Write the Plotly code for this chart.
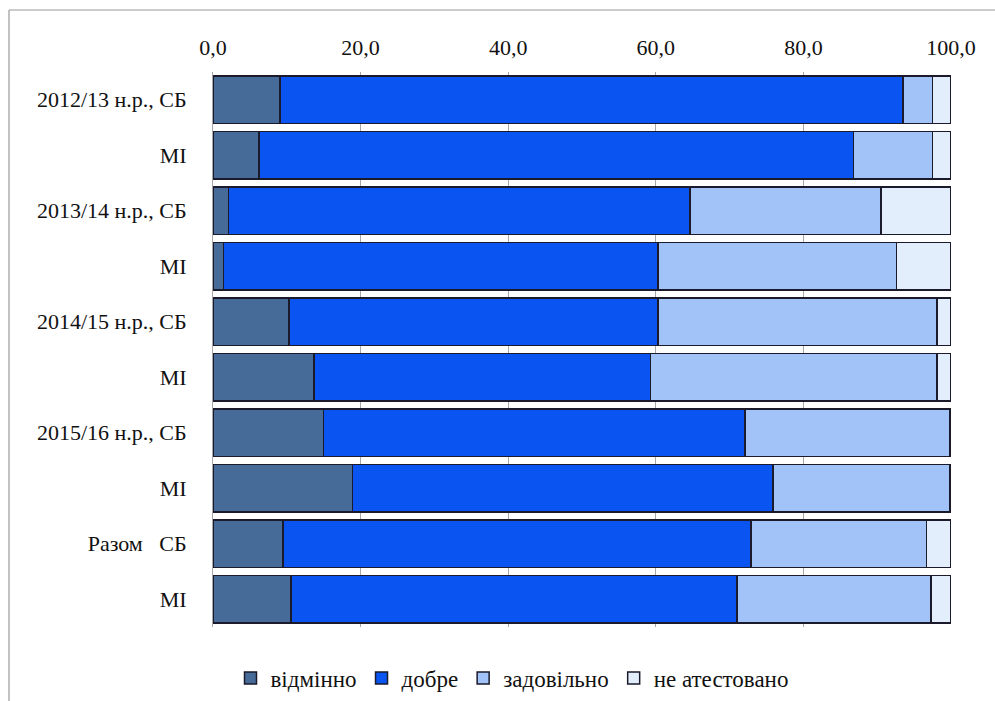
import plotly.graph_objects as go

# Categories (top to bottom); zero-width spaces keep repeated "МІ" rows distinct
ZW = "\u200b"
categories = [
    "2012/13 н.р., СБ", "МІ",
    "2013/14 н.р., СБ", "МІ" + ZW,
    "2014/15 н.р., СБ", "МІ" + ZW * 2,
    "2015/16 н.р., СБ", "МІ" + ZW * 3,
    "Разом\u00a0\u00a0\u00a0СБ", "МІ" + ZW * 4,
]

# Shares of grades, %
vidminno = [9.1, 6.2, 2.1, 1.4, 10.3, 13.7, 15.0, 18.9, 9.5, 10.6]
dobre = [84.4, 80.6, 62.5, 58.9, 50.0, 45.6, 57.1, 57.0, 63.4, 60.4]
zadovilno = [4.0, 10.7, 25.9, 32.3, 37.8, 38.8, 27.7, 23.9, 23.8, 26.3]
ne_atestovano = [2.5, 2.5, 9.5, 7.4, 1.9, 1.9, 0.2, 0.2, 3.3, 2.7]

series = [
    ("відмінно", vidminno, "#476b98"),
    ("добре", dobre, "#0a54f2"),
    ("задовільно", zadovilno, "#a2c3f7"),
    ("не атестовано", ne_atestovano, "#e3eefc"),
]

SERIF = "Times New Roman, Liberation Serif, serif"

fig = go.Figure()
for name, vals, color in series:
    fig.add_trace(go.Bar(
        y=categories, x=vals, name=name, orientation="h",
        marker=dict(color=color, line=dict(color="#1a1a2a", width=1.5)),
    ))

W, H = 995, 701
L, R, T, B = 213, 44, 72, 74
pw, ph = W - L - R, H - T - B

def px(xp):
    return (xp - L) / pw

def py(yp):
    return (H - B - yp) / ph

fig.update_layout(
    width=W, height=H,
    barmode="stack", bargap=0.14,
    separators=", ",
    margin=dict(l=L, r=R, t=T, b=B, autoexpand=False),
    paper_bgcolor="white", plot_bgcolor="white",
    font=dict(family=SERIF, size=17, color="#111111"),
    legend=dict(
        orientation="h", x=px(512), xanchor="center",
        y=py(678), yanchor="middle",
        font=dict(family=SERIF, size=23, color="#111111"),
        itemwidth=30, traceorder="normal",
    ),
    shapes=[
        dict(type="line", xref="paper", yref="paper",
             x0=px(9), x1=px(995), y0=py(10), y1=py(10),
             line=dict(color="#9a9a9a", width=1.2)),
        dict(type="line", xref="paper", yref="paper",
             x0=px(9), x1=px(9), y0=py(10), y1=py(701),
             line=dict(color="#9a9a9a", width=1.2)),
    ],
)

fig.update_xaxes(
    side="top", range=[0, 100], tickvals=[0, 20, 40, 60, 80, 100],
    tickformat=".1f", showgrid=True, gridcolor="#a8a8a8", gridwidth=1,
    zeroline=False, showline=False, ticks="", ticklabelstandoff=12,
    tickfont=dict(family=SERIF, size=22),
)
fig.update_yaxes(
    autorange="reversed", showgrid=False, showline=True,
    linecolor="#a8a8a8", ticks="", ticklabelstandoff=21,
    tickfont=dict(family=SERIF, size=22),
)

fig.write_html("out.html")
